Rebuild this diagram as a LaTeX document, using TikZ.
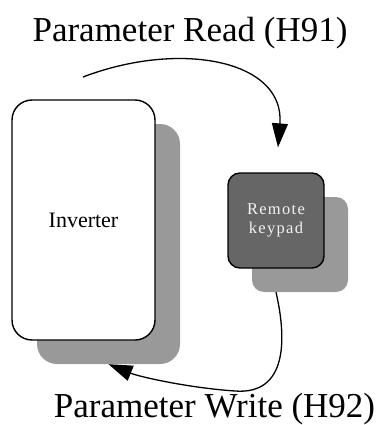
\documentclass[tikz,border=0pt]{standalone}
\usepackage{fontspec}
\setmainfont{Liberation Serif}
\newfontfamily\padfont[LetterSpace=8]{Liberation Serif}
\usepackage{tikz}
\usetikzlibrary{arrows.meta,positioning,calc}
\definecolor{kpgray}{HTML}{666666}
\definecolor{shgray}{HTML}{999999}
\definecolor{kptext}{HTML}{F2F2F2}
\tikzset{
  unit/.style={draw=black,fill=white,rounded corners=20pt,line width=1.4pt,align=center,inner sep=0pt},
  pad/.style={draw=black,fill=kpgray,text=kptext,rounded corners=12pt,line width=1.4pt,align=center,inner sep=0pt},
  shade/.style={fill=shgray,rounded corners=12pt,inner sep=0pt},
  flow/.style={-{Triangle[length=24pt,width=16pt]},line width=1.3pt,draw=black},
  big/.style={font=\fontsize{35}{40}\selectfont,anchor=base,inner sep=0pt},
}

\begin{document}
\begin{tikzpicture}[x=1pt,y=-1pt]
  \useasboundingbox (0,0) rectangle (378,425);
  % shadows first
  \node[shade,rounded corners=20pt,minimum width=143pt,minimum height=240pt] (invshadow) at (108.5,244) {};
  \node[shade,minimum width=96pt,minimum height=95pt] (kpshadow) at (300,244.5) {};
  % boxes
  \node[unit,minimum width=143pt,minimum height=240pt,font=\fontsize{22}{24}\selectfont] (inv) at (83.5,220) {Inverter};
  \node[pad,minimum width=96pt,minimum height=95pt,font=\padfont\fontsize{16.5}{19}\selectfont] (kp) at (276,220.5) {Remote\\keypad};
  % labels
  \node[big] (readlbl) at (190,42) {Parameter Read (H91)};
  \node[big] (writelbl) at (214.5,417) {Parameter Write (H92)};
  \coordinate (readstart) at (83,77);
  \draw[flow,shorten >=25pt] (readstart) .. controls (180,40) and (285,60) .. (kp.north);
  \draw[flow] (kp.south |- kpshadow.south) .. controls (287,340) and (287,395) .. (235,391)
    .. controls (190,388) and (140,377) .. (invshadow.south);
\end{tikzpicture}
\end{document}
